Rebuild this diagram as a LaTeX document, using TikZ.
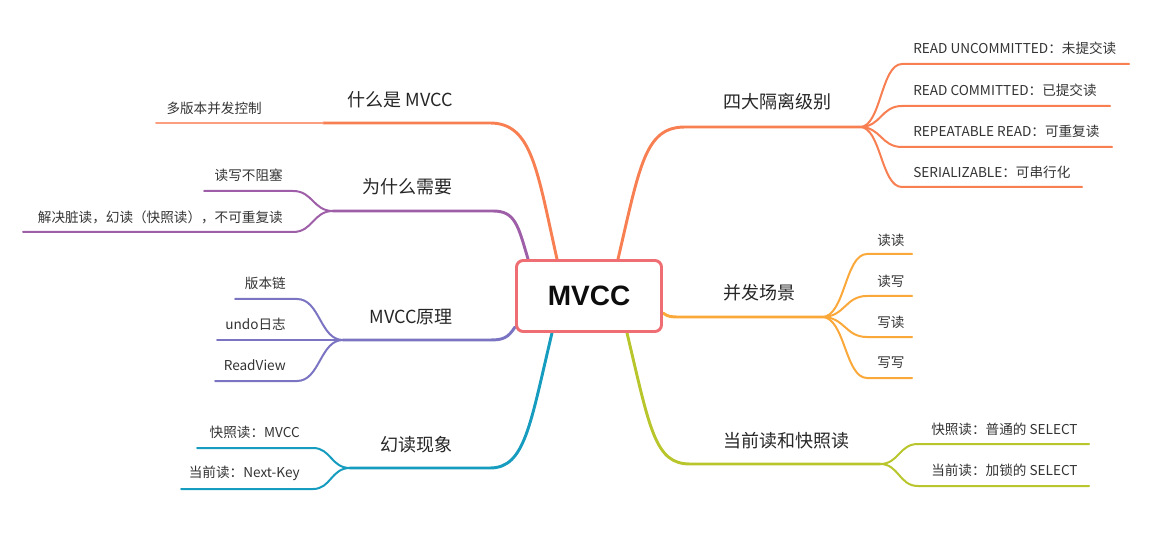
\documentclass[tikz,border=0pt]{standalone}
\usepackage{fontspec}
\setmainfont{Noto Sans CJK SC}
\newfontfamily\rootfont{Liberation Sans}
\usetikzlibrary{positioning,backgrounds}
\definecolor{boxred}{RGB}{238,110,115}
\definecolor{coral}{RGB}{247,127,82}
\definecolor{coralpale}{RGB}{250,158,125}
\definecolor{plum}{RGB}{158,95,168}
\definecolor{iris}{RGB}{122,116,194}
\definecolor{tealc}{RGB}{22,156,190}
\definecolor{amber}{RGB}{251,168,58}
\definecolor{limec}{RGB}{184,198,44}

\begin{document}
\begin{tikzpicture}[x=0.75pt,y=-0.75pt,
  topic/.style={inner sep=0pt,text=black!85,font=\fontsize{13.5}{16}\selectfont},
  leaf/.style={inner sep=0pt,text=black!80,font=\fontsize{10.2}{12}\selectfont},
  stem/.style={line width=2.2pt,line cap=round},
  twig/.style={line width=1.5pt,line cap=round}]
\useasboundingbox (0,0) rectangle (1166,541);

\node[draw=boxred,line width=2.2pt,rounded corners=5pt,fill=white,inner sep=0pt,
  minimum width=108.75pt,minimum height=53.25pt,text=black!95,
  font=\rootfont\bfseries\fontsize{21}{24}\selectfont] (mvcc) at (589,296) {MVCC};

% junctions
\coordinate (q1) at (323,123);
\coordinate (q2) at (333,211);
\coordinate (q3) at (343,340);
\coordinate (q4) at (350,468);
\coordinate (r1) at (860,127);
\coordinate (r2) at (822,317);
\coordinate (r3) at (880,464);

% leaf line ends
\coordinate (l11) at (156,123);
\coordinate (l21) at (204,191);
\coordinate (l22) at (23,232);
\coordinate (l31) at (235,299);
\coordinate (l32) at (217,340);
\coordinate (l33) at (215,381);
\coordinate (l41) at (197,448);
\coordinate (l42) at (181,489);
\coordinate (e11) at (1129,64);
\coordinate (e12) at (1110,106);
\coordinate (e13) at (1112,147);
\coordinate (e14) at (1082,187);
\coordinate (e21) at (912,254);
\coordinate (e22) at (912,296);
\coordinate (e23) at (912,337);
\coordinate (e24) at (912,378);
\coordinate (e31) at (1089,444);
\coordinate (e32) at (1089,486);

\begin{scope}[on background layer]
\draw[stem,coral] ([xshift=-24pt]mvcc.north) .. controls (537,170) and (532,123) .. (490,123) -- (q1);
\draw[stem,plum] ([xshift=-45.75pt]mvcc.north) .. controls (518,225) and (515,211) .. (493,211) -- (q2);
\draw[stem,iris] ([yshift=-23.25pt]mvcc.west) .. controls (508,338) and (503,340) .. (490,340) -- (q3);
\draw[stem,tealc] ([xshift=-27.75pt]mvcc.south) .. controls (530,425) and (525,468) .. (490,468) -- (q4);
\draw[stem,coral] ([xshift=21.75pt]mvcc.north) .. controls (640,165) and (645,127) .. (685,127) -- (r1);
\draw[stem,amber] ([yshift=-12.75pt]mvcc.east) .. controls (668,317) and (672,317) .. (680,317) -- (r2);
\draw[stem,limec] ([xshift=28.5pt]mvcc.south) .. controls (650,430) and (655,464) .. (690,464) -- (r3);
\end{scope}

\draw[twig,coralpale] (q1) -- (l11);
\draw[twig,plum] (q2) .. controls (313,211) and (313,191) .. (293,191) -- (l21);
\draw[twig,plum] (q2) .. controls (313,211) and (313,232) .. (293,232) -- (l22);
\draw[twig,iris] (q3) .. controls (320,340) and (320,299) .. (297,299) -- (l31);
\draw[twig,iris] (q3) -- (l32);
\draw[twig,iris] (q3) .. controls (320,340) and (320,381) .. (297,381) -- (l33);
\draw[twig,tealc] (q4) .. controls (331,468) and (331,448) .. (313,448) -- (l41);
\draw[twig,tealc] (q4) .. controls (331,468) and (331,489) .. (313,489) -- (l42);
\draw[twig,coral] (r1) .. controls (881,127) and (881,64) .. (902,64) -- (e11);
\draw[twig,coral] (r1) .. controls (881,127) and (881,106) .. (902,106) -- (e12);
\draw[twig,coral] (r1) .. controls (881,127) and (881,147) .. (902,147) -- (e13);
\draw[twig,coral] (r1) .. controls (881,127) and (881,187) .. (902,187) -- (e14);
\draw[twig,amber] (r2) .. controls (845,317) and (845,254) .. (867,254) -- (e21);
\draw[twig,amber] (r2) .. controls (845,317) and (845,296) .. (867,296) -- (e22);
\draw[twig,amber] (r2) .. controls (845,317) and (845,337) .. (867,337) -- (e23);
\draw[twig,amber] (r2) .. controls (845,317) and (845,378) .. (867,378) -- (e24);
\draw[twig,limec] (r3) .. controls (899,464) and (899,444) .. (918,444) -- (e31);
\draw[twig,limec] (r3) .. controls (899,464) and (899,486) .. (918,486) -- (e32);

% topics
\node[topic,anchor=east] (t1) at (453,100) {什么是 MVCC};
\node[topic,anchor=east] (t2) at (453,187) {为什么需要};
\node[topic,anchor=east] (t3) at (453,317) {MVCC原理};
\node[topic,anchor=east] (t4) at (453,445) {幻读现象};
\node[topic,anchor=west] (t5) at (723,102) {四大隔离级别};
\node[topic,anchor=west] (t6) at (723,293) {并发场景};
\node[topic,anchor=west] (t7) at (723,441) {当前读和快照读};

% leaves
\node[leaf,anchor=east] (s11) at (262,108) {多版本并发控制};
\node[leaf,anchor=east] (s21) at (283,175) {读写不阻塞};
\node[leaf,anchor=east] (s22) at (283,217) {解决脏读，幻读（快照读），不可重复读};
\node[leaf,anchor=east] (s31) at (286,283) {版本链};
\node[leaf,anchor=east] (s32) at (286,324) {undo日志};
\node[leaf,anchor=east] (s33) at (286,365) {ReadView};
\node[leaf,anchor=east] (s41) at (300,432) {快照读：MVCC};
\node[leaf,anchor=east] (s42) at (300,473) {当前读：Next-Key};
\node[leaf,anchor=west] (s51) at (913,48) {READ UNCOMMITTED：未提交读};
\node[leaf,anchor=west] (s52) at (913,90) {READ COMMITTED：已提交读};
\node[leaf,anchor=west] (s53) at (913,131) {REPEATABLE READ：可重复读};
\node[leaf,anchor=west] (s54) at (913,172) {SERIALIZABLE：可串行化};
\node[leaf,anchor=west] (s61) at (877,240) {读读};
\node[leaf,anchor=west] (s62) at (877,281) {读写};
\node[leaf,anchor=west] (s63) at (877,322) {写读};
\node[leaf,anchor=west] (s64) at (877,363) {写写};
\node[leaf,anchor=west] (s71) at (931,429) {快照读：普通的 SELECT};
\node[leaf,anchor=west] (s72) at (931,470) {当前读：加锁的 SELECT};
\end{tikzpicture}
\end{document}
